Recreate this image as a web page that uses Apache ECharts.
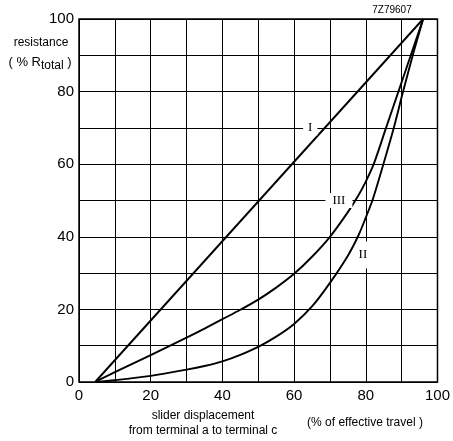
<!DOCTYPE html>
<html>
<head>
<meta charset="utf-8">
<script src="https://cdn.jsdelivr.net/npm/echarts@6/dist/echarts.min.js"></script>
<style>
	html, body { margin: 0; padding: 0; background: #fff; }
	#main { width: 453px; height: 441px; }
</style>
</head>
<body>
<div id="main"></div>
<script>
// slider displacement (%) -> resistance (% R total)
var curveI = [[4.5, 0], [96, 100]]
var curveII = [[4.5, 0], [10, 0.5], [20, 1.7], [30, 3.4], [35, 4.4], [40, 5.7], [45, 7.5], [50, 9.7], [55, 12.5], [60, 16], [65, 20.8], [70, 27.3], [75, 34.8], [78, 40.5], [80, 45.3], [82, 50.5], [84.9, 60], [87.8, 70], [90.4, 80], [93.1, 90], [96, 100]]
var curveIII = [[4.5, 0], [10, 2.7], [20, 7.4], [30, 12.2], [35, 14.7], [40, 17.3], [45, 19.9], [50, 22.7], [55, 26], [60, 29.8], [65, 34.5], [70, 40], [75, 46.8], [78, 51.5], [80, 55.2], [82.2, 60], [85.65, 70], [89.1, 80], [92.55, 90], [96, 100]]
// where the curve names sit
var labelI = [64.5, 70]
var labelII = [79.2, 35]
var labelIII = [72.5, 50]

var chartDom = document.getElementById('main');
var myChart = echarts.init(chartDom);
var font = 'Liberation Sans, Arial, sans-serif'

var nameLabel = function(txt, pos, pad) {
	return {
		data: [{ coord: pos, value: txt }],
		symbol: 'rect',
		symbolSize: 1,
		itemStyle: { color: 'transparent' },
		label: {
			show: true,
			position: 'inside',
			formatter: txt,
			color: '#000',
			fontFamily: 'Liberation Serif, serif',
			fontSize: 13,
			backgroundColor: '#fff',
			padding: pad
		}
	}
}

var lineSeries = function(data, txt, pos, pad) {
	return {
		type: 'line',
		data: data,
		smooth: 0.3,
		symbol: 'none',
		lineStyle: { color: '#000', width: 1.9 },
		silent: true,
		z: 3,
		markPoint: nameLabel(txt, pos, pad)
	}
}

var option = {
	animation: false,
	grid: {
		left: 79,
		right: 14,
		top: 19,
		bottom: 59,
		show: true,
		borderColor: '#000',
		borderWidth: 1.5
	},
	xAxis: {
		type: 'value',
		min: 0,
		max: 100,
		interval: 10,
		axisLine: { show: false },
		axisTick: { show: false },
		splitLine: { show: true, lineStyle: { color: '#000', width: 1 } },
		axisLabel: {
			color: '#000',
			fontFamily: font,
			fontSize: 15,
			margin: 6,
			formatter: function(v) { return v % 20 === 0 ? v : '' }
		}
	},
	yAxis: {
		type: 'value',
		min: 0,
		max: 100,
		interval: 10,
		axisLine: { show: false },
		axisTick: { show: false },
		splitLine: { show: true, lineStyle: { color: '#000', width: 1 } },
		axisLabel: {
			color: '#000',
			fontFamily: font,
			fontSize: 15,
			margin: 5,
			formatter: function(v) { return v % 20 === 0 ? v : '' }
		}
	},
	graphic: {
		elements: [
			{
				type: 'text',
				x: 41,
				y: 43,
				style: {
					text: 'resistance',
					fill: '#000',
					fontFamily: font,
					fontSize: 12,
					align: 'center',
					verticalAlign: 'middle'
				}
			},
			{
				type: 'text',
				x: 40,
				y: 62,
				style: {
					text: '{a|( % R}{s|total}{a| )}',
					fill: '#000',
					align: 'center',
					verticalAlign: 'middle',
					rich: {
						a: { fontFamily: font, fontSize: 13, fill: '#000' },
						s: { fontFamily: font, fontSize: 12, fill: '#000', padding: [8, 0, 0, 0] }
					}
				}
			},
			{
				type: 'text',
				x: 392,
				y: 10,
				style: {
					text: '7Z79607',
					fill: '#000',
					fontFamily: font,
					fontSize: 10,
					align: 'center',
					verticalAlign: 'middle'
				}
			},
			{
				type: 'text',
				x: 203,
				y: 423.5,
				style: {
					text: 'slider displacement\nfrom terminal a to terminal c',
					fill: '#000',
					fontFamily: font,
					fontSize: 12,
					lineHeight: 15,
					align: 'center',
					verticalAlign: 'middle'
				}
			},
			{
				type: 'text',
				x: 365,
				y: 423,
				style: {
					text: '(% of effective travel )',
					fill: '#000',
					fontFamily: font,
					fontSize: 12,
					align: 'center',
					verticalAlign: 'middle'
				}
			}
		]
	},
	series: [
		lineSeries(curveI, 'I', labelI, [1, 5]),
		lineSeries(curveII, 'II', labelII, [7, 1]),
		lineSeries(curveIII, 'III', labelIII, [1, 7])
	]
};

option && myChart.setOption(option);
</script>
</body>
</html>
